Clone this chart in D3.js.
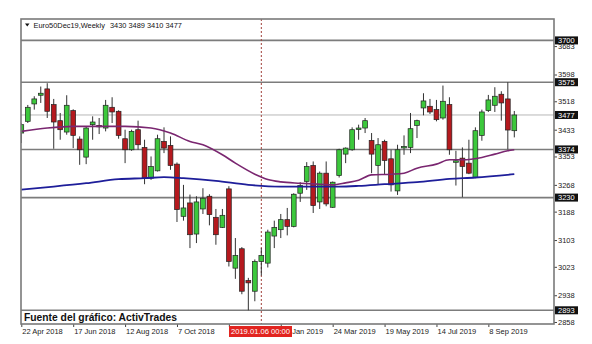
<!DOCTYPE html>
<html>
<head>
<meta charset="utf-8">
<script src="https://cdn.jsdelivr.net/npm/d3@7"></script>
<style>
  body { margin: 0; background: #fff; }
  svg { display: block; font-family: "Liberation Sans", Arial, sans-serif; }
</style>
</head>
<body>
<div id="chart"></div>
<script>
// weekly bars, first one is the week of 22 Apr 2018
const opens  = [3423,3458,3510,3536,3555,3508,3460,3426,3490,3405,3351,3448,3446,3438,3500,3488,3406,3373,3433,3380,
                3288,3310,3398,3386,3330,3174,3214,3121,3196,3234,3171,3141,3256,3019,3077,2982,2950,3039,3034,3115,
                3134,3164,3144,3243,3278,3326,3217,3303,3201,3296,3360,3373,3434,3438,3401,3326,3398,3346,3250,3380,
                3380,3446,3498,3503,3493,3468,3508,3336,3348,3333,3290,3416,3490,3506,3539,3525,3430]
const highs  = [3452,3507,3533,3562,3572,3525,3483,3536,3494,3413,3443,3473,3468,3522,3530,3491,3433,3433,3460,3403,
                3353,3418,3440,3413,3335,3268,3239,3234,3258,3240,3196,3196,3264,3109,3082,2990,3045,3079,3134,3161,
                3181,3199,3243,3276,3336,3338,3308,3338,3278,3376,3380,3440,3448,3468,3423,3408,3403,3373,3388,3416,
                3483,3463,3542,3525,3522,3565,3530,3370,3380,3403,3440,3493,3537,3560,3548,3575,3489]
const lows   = [3393,3453,3493,3513,3468,3376,3403,3418,3378,3328,3330,3403,3420,3428,3453,3406,3333,3370,3373,3270,
                3283,3308,3363,3313,3157,3161,3079,3094,3181,3147,3089,3139,3024,2987,2941,2893,2920,2997,3021,3079,
                3109,3117,3141,3217,3253,3184,3196,3204,3199,3290,3333,3370,3403,3423,3303,3270,3300,3248,3238,3358,
                3363,3408,3476,3480,3458,3463,3358,3266,3231,3300,3288,3400,3486,3486,3460,3374,3410]
const closes = [3448,3500,3525,3542,3488,3456,3433,3506,3416,3373,3438,3456,3443,3506,3486,3416,3373,3428,3388,3288,
                3323,3406,3378,3326,3194,3199,3119,3217,3228,3179,3119,3177,3039,3057,2950,2975,3039,3057,3127,3141,
                3164,3144,3240,3266,3323,3206,3303,3211,3276,3373,3378,3433,3438,3460,3360,3388,3341,3268,3373,3383,
                3436,3460,3519,3486,3463,3518,3373,3340,3323,3303,3430,3486,3522,3533,3513,3432,3477]

// moving averages at some bars
const maSlowIdx = [0,4,8,12,16,20,23,26,28,31,33,36,38,40,43,46,48,50,52,54,57,59,61,64,66,68,71,73,75,76]
const maSlowVal = [3428,3438,3443,3443,3443,3438,3423,3398,3388,3358,3333,3300,3284,3277,3273,3270,3268,3274,3282,3298,
                   3300,3303,3318,3330,3343,3343,3350,3360,3370,3373]
const maLongIdx = [0,5,10,15,19,22,25,30,35,40,46,49,52,56,61,66,70,76]
const maLongVal = [3254,3263,3273,3285,3288,3291,3288,3280,3268,3263,3263,3263,3265,3270,3276,3286,3290,3300]

const levels = [3700, 3575, 3374, 3230, 2893]
const lastPrice = 3477
const yTicks = [3683, 3598, 3518, 3433, 3353, 3268, 3188, 3103, 3023, 2938, 2858]
const xTickIdx = [0, 8, 16, 24, 32, 40, 48, 56, 64, 72]
// the 2 Dec 2018 label sits under the crosshair date tag
const xTickLabels = ["22 Apr 2018", "17 Jun 2018", "12 Aug 2018", "7 Oct 2018", "",
                     "27 Jan 2019", "24 Mar 2019", "19 May 2019", "14 Jul 2019", "8 Sep 2019"]
const crossIdx = 37
const crossLabel = "2019.01.06 00:00"

const width = 592, height = 344
const pLeft = 21, pRight = 554, pTop = 19, pBottom = 324

const x = d3.scaleLinear().domain([0, 76]).range([21.3, 514.3])
const y = d3.scaleLinear().domain([2852, 3764]).range([pBottom, pTop])

const svg = d3.select("#chart").append("svg")
  .attr("width", width)
  .attr("height", height)

svg.append("defs").append("clipPath").attr("id", "plot")
  .append("rect").attr("x", pLeft).attr("y", pTop).attr("width", pRight - pLeft).attr("height", pBottom - pTop)

// axes
svg.append("g")
  .attr("transform", `translate(${pRight},0)`)
  .call(d3.axisRight(y).tickValues(yTicks).tickSize(3).tickPadding(1).tickFormat(d3.format("d")))
  .call(g => g.select(".domain").remove())
  .call(g => g.selectAll("text").attr("font-size", 7.5).attr("fill", "#222"))
  .call(g => g.selectAll("line").attr("stroke", "#444"))

svg.append("g")
  .attr("transform", `translate(0,${pBottom})`)
  .call(d3.axisBottom(x).tickValues(xTickIdx).tickSize(3).tickPadding(2).tickFormat((d, i) => xTickLabels[i]))
  .call(g => g.select(".domain").remove())
  .call(g => g.selectAll("text").attr("font-size", 7.5).attr("fill", "#222")
    .attr("text-anchor", "start").attr("dx", 0.5))
  .call(g => g.selectAll("line").attr("stroke", "#444"))

const plot = svg.append("g").attr("clip-path", "url(#plot)")

// price levels
plot.append("line")
  .attr("x1", pLeft).attr("x2", pRight)
  .attr("y1", y(lastPrice)).attr("y2", y(lastPrice))
  .attr("stroke", "#b8b8b8").attr("stroke-width", 1)

plot.selectAll(".level").data(levels).join("line")
  .attr("class", "level")
  .attr("x1", pLeft).attr("x2", pRight)
  .attr("y1", d => y(d)).attr("y2", d => y(d))
  .attr("stroke", "#7c7c7c").attr("stroke-width", 1.6)

// crosshair
plot.append("line")
  .attr("x1", x(crossIdx)).attr("x2", x(crossIdx))
  .attr("y1", pTop).attr("y2", pBottom)
  .attr("stroke", "#a0403a").attr("stroke-width", 1).attr("stroke-dasharray", "2,2")

// candles
const bars = d3.range(opens.length)
const bw = 4.8

plot.selectAll(".wick").data(bars).join("line")
  .attr("class", "wick")
  .attr("x1", i => x(i)).attr("x2", i => x(i))
  .attr("y1", i => y(highs[i])).attr("y2", i => y(lows[i]))
  .attr("stroke", "#333").attr("stroke-width", 1)

plot.selectAll(".body").data(bars).join("rect")
  .attr("class", "body")
  .attr("x", i => x(i) - bw / 2)
  .attr("width", bw)
  .attr("y", i => y(Math.max(opens[i], closes[i])))
  .attr("height", i => Math.max(1.5, Math.abs(y(opens[i]) - y(closes[i]))))
  .attr("fill", i => closes[i] >= opens[i] ? "#3cc83c" : "#b5191e")
  .attr("stroke", "#222").attr("stroke-width", 0.7)

// moving averages
const maLine = d3.line().x(d => x(d[0])).y(d => y(d[1])).curve(d3.curveMonotoneX)

plot.append("path")
  .datum(maLongIdx.map((d, i) => [d, maLongVal[i]]))
  .attr("d", maLine)
  .attr("fill", "none").attr("stroke", "#1e1e9a").attr("stroke-width", 1.8)

plot.append("path")
  .datum(maSlowIdx.map((d, i) => [d, maSlowVal[i]]))
  .attr("d", maLine)
  .attr("fill", "none").attr("stroke", "#7a2670").attr("stroke-width", 1.6)

// frame
svg.append("rect")
  .attr("x", pLeft).attr("y", pTop).attr("width", pRight - pLeft).attr("height", pBottom - pTop)
  .attr("fill", "none").attr("stroke", "#7a7a7a").attr("stroke-width", 1.6)

// highlighted price labels on the right
const tags = svg.append("g").selectAll("g").data(levels.concat([lastPrice])).join("g")
  .attr("transform", d => `translate(${pRight + 1},${y(d)})`)
tags.append("rect")
  .attr("x", 0).attr("y", -4).attr("width", 23).attr("height", 8)
  .attr("fill", "#111")
tags.append("text")
  .attr("x", 3).attr("y", 0).attr("dy", "0.35em")
  .attr("font-size", 7.5).attr("fill", "#fff")
  .text(d => d)

// header
svg.append("path")
  .attr("d", "M25,23.5 L29.5,23.5 L27.25,26.5 Z")
  .attr("fill", "#111")
svg.append("text")
  .attr("x", 33.5).attr("y", 28)
  .attr("font-size", 7.4).attr("fill", "#111")
  .text("Euro50Dec19,Weekly")
svg.append("text")
  .attr("x", 110).attr("y", 28)
  .attr("font-size", 7.4).attr("fill", "#111")
  .text(`${opens[76]} ${highs[76]} ${lows[76]} ${closes[76]}`)

// source note
svg.append("text")
  .attr("x", 24).attr("y", 320.7)
  .attr("font-size", 10.3).attr("font-weight", "bold").attr("fill", "#111")
  .text("Fuente del gráfico: ActivTrades")

// crosshair date tag
const cross = svg.append("g").attr("transform", `translate(229,326)`)
cross.append("rect").attr("width", 63).attr("height", 11).attr("fill", "#e2241f")
cross.append("text")
  .attr("x", 31.5).attr("y", 8.3).attr("text-anchor", "middle")
  .attr("font-size", 7.6).attr("fill", "#fff")
  .text(crossLabel)
</script>
</body>
</html>
